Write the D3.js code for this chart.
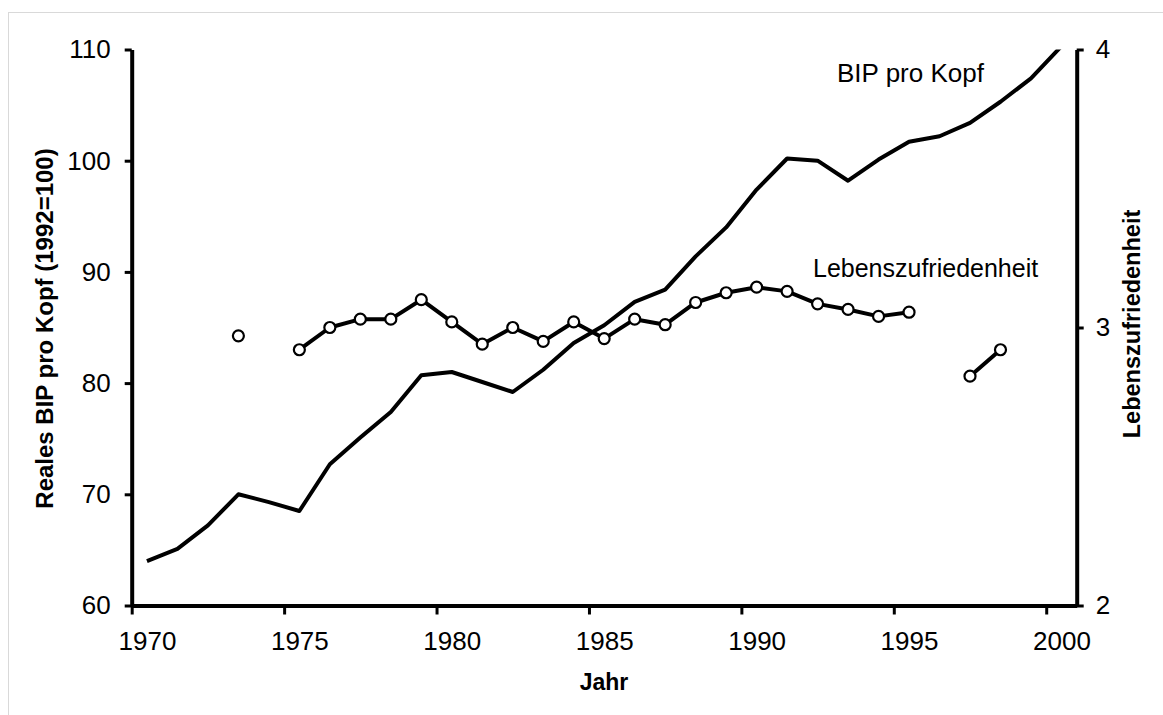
<!DOCTYPE html>
<html>
<head>
<meta charset="utf-8">
<script src="https://cdn.jsdelivr.net/npm/d3@7"></script>
<style>
    html, body { margin: 0; padding: 0; background: #fff; }
    svg { display: block; font-family: "Liberation Sans", Arial, sans-serif; }
</style>
</head>
<body>
<div id="chart"></div>
<script>
// Data (values plotted mid-year)
const years = d3.range(1970, 2001);
const bipProKopf = [
    64.0, 65.1, 67.2, 70.0, 69.3, 68.5, 72.7, 75.1, 77.4, 80.7,
    81.0, 80.1, 79.2, 81.2, 83.6, 85.2, 87.3, 88.4, 91.4, 94.0,
    97.4, 100.2, 100.0, 98.2, 100.1, 101.7, 102.2, 103.4, 105.3, 107.4,
    110.3
];
// null = no survey that year
const lebenszufriedenheit = [
    null, null, null, 2.97, null, 2.92, 3.00, 3.03, 3.03, 3.10,
    3.02, 2.94, 3.00, 2.95, 3.02, 2.96, 3.03, 3.01, 3.09, 3.125,
    3.145, 3.13, 3.085, 3.065, 3.04, 3.055, null, 2.825, 2.92, null,
    null
];
const xTicks = [1970, 1975, 1980, 1985, 1990, 1995, 2000];
const yLeftTicks = [60, 70, 80, 90, 100, 110];
const yRightTicks = [2, 3, 4];

const width = 1163, height = 715;
const plot = { left: 131.7, right: 1076.7, top: 49.5, bottom: 605.5 };

const svg = d3.select('#chart').append('svg')
    .attr('width', width)
    .attr('height', height);

// light frame
svg.append('rect')
    .attr('x', 8.5).attr('y', 12.5)
    .attr('width', width).attr('height', height)
    .attr('fill', 'none')
    .attr('stroke', '#d9d9d9')
    .attr('stroke-width', 1);

const x = d3.scaleLinear().domain([1970, 2001]).range([plot.left, plot.right]);
const yL = d3.scaleLinear().domain([60, 110]).range([plot.bottom, plot.top]);
const yR = d3.scaleLinear().domain([2, 4]).range([plot.bottom, plot.top]);

svg.append('clipPath').attr('id', 'plot-clip')
    .append('rect')
    .attr('x', plot.left).attr('y', plot.top)
    .attr('width', plot.right - plot.left)
    .attr('height', plot.bottom - plot.top);

const styleAxis = (g, size) => {
    g.select('.domain').attr('stroke', '#000').attr('stroke-width', 4);
    g.selectAll('.tick line').attr('stroke', '#000').attr('stroke-width', 3);
    g.selectAll('.tick text')
        .style('font-size', size)
        .style('font-family', '"Liberation Sans", Arial, sans-serif')
        .attr('fill', '#000');
};

// X axis: ticks at year boundaries, labels centred on the year
const halfYear = x(1970.5) - x(1970);
svg.append('g')
    .attr('transform', `translate(0, ${plot.bottom})`)
    .call(d3.axisBottom(x).tickValues(xTicks).tickFormat(d3.format('d'))
        .tickSize(9).tickSizeOuter(0).tickPadding(17))
    .call(g => styleAxis(g, '26px'))
    .call(g => g.selectAll('.tick text').attr('x', halfYear));

// Left axis
svg.append('g')
    .attr('transform', `translate(${plot.left}, 0)`)
    .call(d3.axisLeft(yL).tickValues(yLeftTicks).tickSize(7).tickSizeOuter(0).tickPadding(14))
    .call(g => styleAxis(g, '26px'));

// Right axis
svg.append('g')
    .attr('transform', `translate(${plot.right}, 0)`)
    .call(d3.axisRight(yR).tickValues(yRightTicks).tickFormat(d3.format('d'))
        .tickSize(7).tickSizeOuter(0).tickPadding(12))
    .call(g => styleAxis(g, '26px'));

// BIP line
const bipLine = d3.line()
    .x((d, i) => x(years[i] + 0.5))
    .y(d => yL(d));

svg.append('path')
    .datum(bipProKopf)
    .attr('clip-path', 'url(#plot-clip)')
    .attr('fill', 'none')
    .attr('stroke', '#000')
    .attr('stroke-width', 4)
    .attr('stroke-linejoin', 'round')
    .attr('d', bipLine);

// Lebenszufriedenheit line with gaps
const lzLine = d3.line()
    .defined(d => d !== null)
    .x((d, i) => x(years[i] + 0.5))
    .y(d => yR(d));

svg.append('path')
    .datum(lebenszufriedenheit)
    .attr('fill', 'none')
    .attr('stroke', '#000')
    .attr('stroke-width', 4)
    .attr('stroke-linejoin', 'round')
    .attr('d', lzLine);

const lzPoints = lebenszufriedenheit
    .map((v, i) => ({ year: years[i], v }))
    .filter(d => d.v !== null);

svg.append('g').selectAll('circle')
    .data(lzPoints)
    .join('circle')
    .attr('cx', d => x(d.year + 0.5))
    .attr('cy', d => yR(d.v))
    .attr('r', 5.5)
    .attr('fill', '#fff')
    .attr('stroke', '#000')
    .attr('stroke-width', 2.2);

// Series labels
svg.append('text').attr('x', 837).attr('y', 81.5)
    .style('font-size', '26px').text('BIP pro Kopf');
svg.append('text').attr('x', 813).attr('y', 276.5)
    .style('font-size', '25px').text('Lebenszufriedenheit');

// Axis titles
svg.append('text')
    .attr('transform', `translate(53, ${(plot.top + plot.bottom) / 2 + 1}) rotate(-90)`)
    .attr('text-anchor', 'middle')
    .style('font-size', '24px').style('font-weight', 'bold')
    .text('Reales BIP pro Kopf (1992=100)');

svg.append('text')
    .attr('transform', `translate(1140, 324) rotate(-90)`)
    .attr('text-anchor', 'middle')
    .style('font-size', '23.5px').style('font-weight', 'bold')
    .text('Lebenszufriedenheit');

svg.append('text')
    .attr('x', 604).attr('y', 690)
    .attr('text-anchor', 'middle')
    .style('font-size', '23px').style('font-weight', 'bold')
    .text('Jahr');
</script>
</body>
</html>
